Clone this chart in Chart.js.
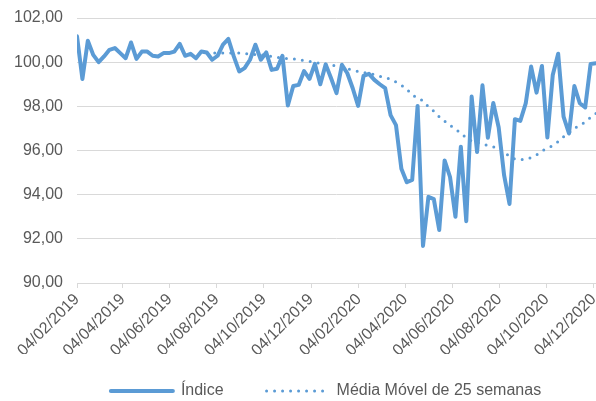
<!DOCTYPE html>
<html>
<head>
<meta charset="utf-8">
<script src="https://cdn.jsdelivr.net/npm/chart.js"></script>
<style>
  body { margin: 0; background: #fff; }
  #wrap { width: 596px; height: 401px; }
</style>
</head>
<body>
<div id="wrap"><canvas id="chart" width="596" height="401"></canvas></div>
<script>
// Weekly series, first point on 04/02/2019
const weekStep = 7; // days between points
const indexValues = [
  101.17, 99.24, 100.97, 100.33, 100.00, 100.26, 100.56, 100.64, 100.41, 100.18,
  100.89, 100.15, 100.48, 100.48, 100.29, 100.26, 100.41, 100.41, 100.48, 100.83,
  100.29, 100.38, 100.18, 100.48, 100.44, 100.11, 100.29, 100.79, 101.05, 100.26,
  99.58, 99.73, 100.11, 100.79, 100.11, 100.44, 99.65, 99.70, 100.29, 98.04,
  98.92, 98.97, 99.60, 99.24, 99.92, 99.00, 99.90, 99.27, 98.60, 99.88,
  99.50, 98.82, 98.02, 99.38, 99.47, 99.20, 99.00, 98.82, 97.60, 97.15,
  95.17, 94.56, 94.67, 98.02, 91.68, 93.90, 93.80, 92.40, 95.55, 94.80,
  93.00, 96.17, 92.80, 98.44, 95.93, 98.95, 96.58, 98.15, 97.04, 94.88,
  93.58, 97.42, 97.34, 98.13, 99.80, 98.62, 99.83, 96.59, 99.42, 100.38,
  97.53, 96.77, 98.92, 98.14, 97.95, 99.92, 99.95
];

// 25-week moving average (starts at week 25)
const movingAvg = [
  null, null, null, null, null, null, null, null, null, null,
  null, null, null, null, null, null, null, null, null, null,
  null, null, null, null, 100.42, 100.42, 100.41, 100.41, 100.41, 100.41,
  100.41, 100.39, 100.37, 100.35, 100.33, 100.30, 100.26, 100.22, 100.19, 100.16,
  100.15, 100.11, 100.07, 100.03, 99.99, 99.95, 99.91, 99.87, 99.82, 99.76,
  99.70, 99.64, 99.58, 99.53, 99.48, 99.44, 99.36, 99.30, 99.23, 99.10,
  98.96, 98.78, 98.52, 98.38, 98.25, 97.98, 97.78, 97.53, 97.33, 97.14,
  96.97, 96.78, 96.57, 96.43, 96.36, 96.31, 96.22, 96.16, 96.10, 95.95,
  95.72, 95.62, 95.58, 95.60, 95.68, 95.80, 95.98, 96.10, 96.22, 96.40,
  96.62, 96.80, 97.00, 97.16, 97.28, 97.50, 97.68
];

// x-axis labels (days since 04/02/2019)
const tickDays = [0, 59, 120, 181, 242, 303, 365, 425, 486, 547, 608, 669];
const tickLabels = [
  '04/02/2019', '04/04/2019', '04/06/2019', '04/08/2019', '04/10/2019', '04/12/2019',
  '04/02/2020', '04/04/2020', '04/06/2020', '04/08/2020', '04/10/2020', '04/12/2020'
];

const BLUE = '#5B9BD5';
const GRID = '#D9D9D9';
const TEXT = '#595959';
const FONT = 'Liberation Sans, Arial, sans-serif';
const legendShift = 28;
const legendLift = 14;

function toPoints(values) {
  return values.map((v, i) => ({ x: i * weekStep, y: v }));
}

// move the legend row right and up a bit, like the original
const moveLegend = {
  id: 'moveLegend',
  afterLayout(chart) {
    const lg = chart.legend;
    if (!lg) return;
    lg.left += legendShift;
    lg.right += legendShift;
    lg.top -= legendLift;
    lg.bottom = chart.height; // legend clips to its box
  }
};

const ctx = document.getElementById('chart').getContext('2d');

new Chart(ctx, {
  type: 'line',
  data: {
    datasets: [
      {
        label: 'Índice',
        data: toPoints(indexValues),
        borderColor: BLUE,
        backgroundColor: BLUE,
        borderWidth: 4,
        borderJoinStyle: 'round',
        borderCapStyle: 'round',
        pointRadius: 0,
        tension: 0
      },
      {
        label: 'Média Móvel de 25 semanas',
        data: toPoints(movingAvg),
        borderColor: BLUE,
        backgroundColor: BLUE,
        borderWidth: 3,
        borderDash: [0, 8],
        borderCapStyle: 'round',
        pointRadius: 0,
        tension: 0
      }
    ]
  },
  plugins: [moveLegend],
  options: {
    responsive: false,
    animation: false,
    devicePixelRatio: 1,
    layout: {
      padding: { left: 0, right: 0, top: 18, bottom: 0 }
    },
    plugins: {
      tooltip: { enabled: false },
      legend: {
        position: 'bottom',
        maxHeight: 47,
        labels: {
          usePointStyle: true,
          pointStyle: 'line',
          pointStyleWidth: 62,
          boxHeight: 16,
          padding: 43,
          color: TEXT,
          font: { family: FONT, size: 16 },
          // point-style legend items lose the dash, so copy it from the datasets
          generateLabels: (chart) => {
            const items = Chart.defaults.plugins.legend.labels.generateLabels(chart);
            items.forEach(item => {
              const ds = chart.data.datasets[item.datasetIndex];
              item.lineDash = ds.borderDash || [];
              item.lineCap = ds.borderCapStyle;
              item.lineWidth = ds.borderWidth;
            });
            return items;
          }
        }
      }
    },
    scales: {
      x: {
        type: 'linear',
        min: 0,
        max: 672,
        afterBuildTicks: (scale) => {
          scale.ticks = tickDays.map(v => ({ value: v }));
        },
        afterFit: (scale) => {
          scale.height = 71;
          scale.paddingLeft = 0;
          scale.paddingRight = 0;
        },
        border: { color: GRID },
        grid: { drawOnChartArea: false, color: GRID, tickLength: 5 },
        ticks: {
          autoSkip: false,
          minRotation: 45,
          maxRotation: 45,
          padding: 2,
          color: TEXT,
          font: { family: FONT, size: 16 },
          callback: (value, index) => tickLabels[index]
        }
      },
      y: {
        min: 90,
        max: 102,
        afterFit: (scale) => {
          scale.width = 77;
          scale.paddingTop = 0;
          scale.paddingBottom = 0;
        },
        border: { display: false },
        grid: { color: GRID, drawTicks: false },
        ticks: {
          stepSize: 2,
          padding: 14,
          color: TEXT,
          font: { family: FONT, size: 16 },
          callback: (value) => value.toFixed(2).replace('.', ',')
        }
      }
    }
  }
});
</script>
</body>
</html>
